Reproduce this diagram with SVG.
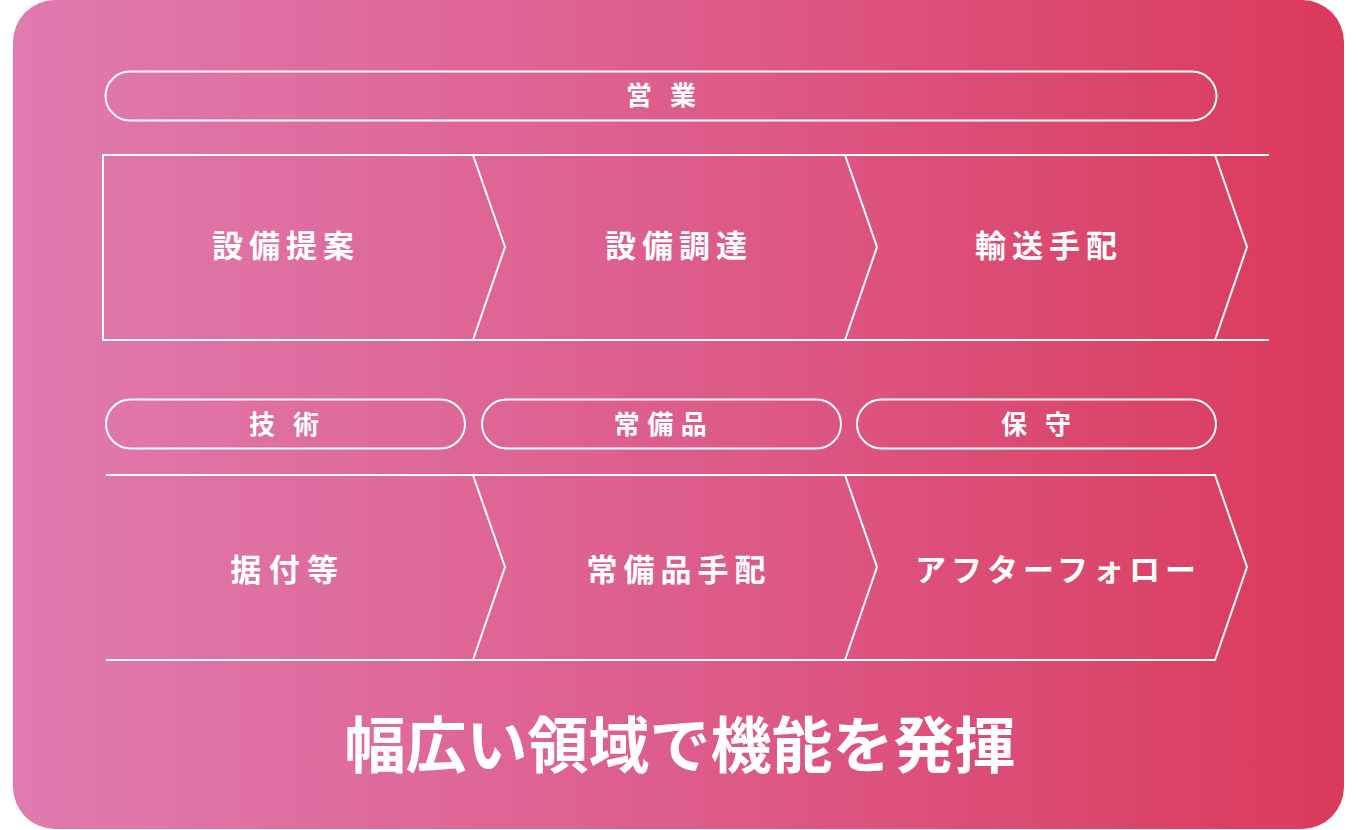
<svg xmlns="http://www.w3.org/2000/svg" width="1358" height="830" viewBox="0 0 1358 830">
<defs>
<linearGradient id="bg" x1="0" y1="0" x2="1" y2="0">
<stop offset="0" stop-color="#E07BAF"/>
<stop offset="0.5" stop-color="#DD5D8C"/>
<stop offset="1" stop-color="#DA3A5B"/>
</linearGradient>
<style>
.ln{fill:none;stroke:#fff;stroke-width:2;stroke-linejoin:miter}
.t{fill:#fff;font-family:"Noto Sans CJK JP","Noto Sans",sans-serif;font-weight:700;text-anchor:middle}
.pl{font-size:26px}
.cv{font-size:31px;letter-spacing:6px}
.ti{font-size:61px}
</style>
</defs>
<rect x="13" y="0" width="1331" height="829" rx="42" fill="url(#bg)"/>
<g id="pill-eigyo">
<rect class="ln" x="105.5" y="71.5" width="1111" height="49" rx="24.5"/>
<text class="t pl" x="670" y="105" style="letter-spacing:18px">営業</text>
</g>
<g id="connectors">
<polyline class="ln" points="1269,155 103,155 103,340 1269,340"/>
<polyline class="ln" points="473,155 505,247 473,340"/>
<polyline class="ln" points="845,155 877,247 845,340"/>
<polyline class="ln" points="1215,155 1247,247 1215,340"/>
<polyline class="ln" points="106,475 1215,475 1247,567 1215,660 106,660"/>
<polyline class="ln" points="473,475 505,567 473,660"/>
<polyline class="ln" points="845,475 877,567 845,660"/>
</g>
<g id="node-setsubiteian"><text class="t cv" x="286" y="257">設備提案</text></g>
<g id="node-setsubichoutatsu"><text class="t cv" x="679" y="257">設備調達</text></g>
<g id="node-yusoutehai"><text class="t cv" x="1049" y="257">輸送手配</text></g>
<g id="pill-gijutsu">
<rect class="ln" x="106" y="399.5" width="359" height="49" rx="24.5"/>
<text class="t pl" x="293" y="434" style="letter-spacing:18px">技術</text>
</g>
<g id="pill-joubihin">
<rect class="ln" x="482" y="399.5" width="359" height="49" rx="24.5"/>
<text class="t pl" x="664" y="434" style="letter-spacing:7.5px">常備品</text>
</g>
<g id="pill-hoshu">
<rect class="ln" x="857" y="399.5" width="359" height="49" rx="24.5"/>
<text class="t pl" x="1045" y="434" style="letter-spacing:18px">保守</text>
</g>
<g id="node-suetsuke"><text class="t cv" x="288" y="581" style="letter-spacing:7.5px">据付等</text></g>
<g id="node-joubihintehai"><text class="t cv" x="679" y="581">常備品手配</text></g>
<g id="node-afterfollow"><text class="t cv" x="1058" y="581" style="letter-spacing:5px">アフターフォロー</text></g>
<g id="title"><text class="t ti" x="680" y="768">幅広い領域で機能を発揮</text></g>
</svg>
